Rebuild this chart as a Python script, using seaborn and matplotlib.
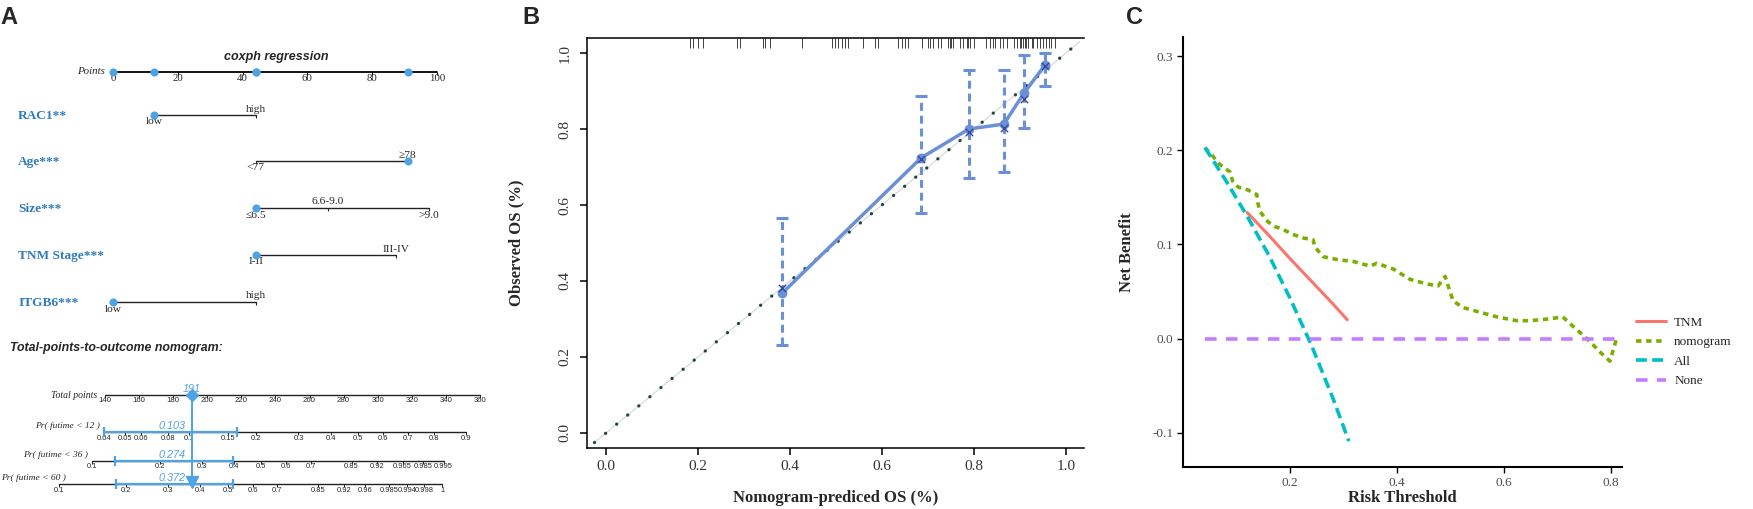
import numpy as np
import pandas as pd
import matplotlib
matplotlib.use("Agg")
import matplotlib.pyplot as plt
import seaborn as sns
from matplotlib.lines import Line2D

# ---------------- A: nomogram (coxph regression) ----------------
points_ticks = [0, 20, 40, 60, 80, 100]
var_names = ["RAC1**", "Age***", "Size***", "TNM Stage***", "ITGB6***"]
var_levels = [["low", "high"], ["<77", "≥78"], ["≤6.5", "6.6-9.0", ">9.0"],
              ["I-II", "III-IV"], ["low", "high"]]
var_points = [[12.6, 44.1], [44.1, 91.0], [44.1, 66.4, 97.5], [44.1, 87.3], [0.0, 44.1]]
obs_points = [12.6, 91.0, 44.1, 44.1, 0.0]   # the patient shown in blue

total_ticks = list(range(140, 361, 20))
total_obs = 191
pr_names = ["Pr( futime < 12 )", "Pr( futime < 36 )", "Pr( futime < 60 )"]
pr_ticks = [
    [0.04, 0.05, 0.06, 0.08, 0.1, 0.15, 0.2, 0.3, 0.4, 0.5, 0.6, 0.7, 0.8, 0.9],
    [0.1, 0.2, 0.3, 0.4, 0.5, 0.6, 0.7, 0.85, 0.92, 0.965, 0.985, 0.995],
    [0.1, 0.2, 0.3, 0.4, 0.5, 0.6, 0.7, 0.85, 0.92, 0.96, 0.985, 0.994, 0.998, 0.9995],
]
pr_obs = [0.103, 0.274, 0.372]
pr_low = [0.04, 0.127, 0.181]
pr_high = [0.164, 0.396, 0.520]
cll_slope = 0.019   # change of log(-log(1-p)) per total point

# ---------------- B: calibration ----------------
cal_pred = [0.383, 0.685, 0.789, 0.865, 0.909, 0.954]
cal_obs = [0.368, 0.724, 0.800, 0.813, 0.895, 0.968]
cal_lo = [0.232, 0.579, 0.671, 0.687, 0.803, 0.913]
cal_hi = [0.566, 0.887, 0.955, 0.955, 0.995, 1.000]
cal_corr = [0.382, 0.720, 0.792, 0.803, 0.879, 0.965]
rug_pred = [0.183, 0.189, 0.200, 0.211, 0.285, 0.291, 0.341, 0.346, 0.357, 0.426,
            0.491, 0.498, 0.505, 0.513, 0.520, 0.527, 0.559, 0.585, 0.592, 0.635,
            0.643, 0.650, 0.657, 0.686, 0.700, 0.704, 0.711, 0.722, 0.729, 0.743,
            0.747, 0.750, 0.755, 0.769, 0.776, 0.784, 0.787, 0.791, 0.799, 0.827,
            0.834, 0.842, 0.845, 0.856, 0.864, 0.871, 0.886, 0.893, 0.900, 0.903,
            0.907, 0.911, 0.914, 0.918, 0.925, 0.929, 0.936, 0.943, 0.950, 0.957,
            0.962, 0.968, 0.975]

# ---------------- C: decision curve ----------------
t_tnm = [0.12, 0.16, 0.20, 0.24, 0.28, 0.307]
nb_tnm = [0.134, 0.110, 0.085, 0.061, 0.037, 0.020]
t_nomo = [0.041, 0.054, 0.069, 0.088, 0.093, 0.103, 0.121, 0.138, 0.140, 0.144,
          0.159, 0.172, 0.187, 0.204, 0.224, 0.243, 0.247, 0.262, 0.288, 0.318,
          0.350, 0.362, 0.393, 0.424, 0.456, 0.477, 0.490, 0.499, 0.505, 0.523,
          0.555, 0.587, 0.624, 0.649, 0.686, 0.710, 0.729, 0.755, 0.779, 0.798, 0.812]
nb_nomo = [0.203, 0.195, 0.185, 0.177, 0.167, 0.161, 0.158, 0.153, 0.144, 0.135,
           0.124, 0.119, 0.116, 0.111, 0.107, 0.105, 0.097, 0.087, 0.084, 0.082,
           0.077, 0.080, 0.074, 0.063, 0.058, 0.056, 0.066, 0.050, 0.040, 0.033,
           0.028, 0.023, 0.019, 0.019, 0.021, 0.023, 0.013, 0.000, -0.014, -0.024, 0.003]
t_all = [0.041, 0.08, 0.12, 0.16, 0.20, 0.24, 0.28, 0.31]
nb_all = [0.203, 0.168, 0.130, 0.089, 0.043, -0.007, -0.063, -0.109]
t_none = [0.041, 0.812]
nb_none = [0.0, 0.0]
dca_names = ["TNM", "nomogram", "All", "None"]
dca_colors = ["#F8766D", "#7CAE00", "#00BFC4", "#C77CFF"]

sns.set_theme(style="white")
plt.rcParams['font.family'] = ['Liberation Serif', 'DejaVu Serif']
SANS = ['Liberation Sans', 'DejaVu Sans']

W, H = 1753, 509
fig = plt.figure(figsize=(W / 100, H / 100), dpi=100)


def fbox(x0, y0, x1, y1):
    # pixel box -> figure fraction
    return [x0 / W, 1 - y1 / H, (x1 - x0) / W, (y1 - y0) / H]


BLUE = '#4da3e3'
LBLUE = '#2f7bbd'

# ---- A, top part (x in points) ----
axA = fig.add_axes(fbox(0, 30, 490, 320))
axA.set_xlim(-34.9, 116.4)
axA.set_ylim(320, 30)
axA.axis('off')
row_y = [72, 115, 161, 208, 255, 302]
y0 = row_y[0]
axA.plot([points_ticks[0], points_ticks[-1]], [y0, y0], color='black', lw=1.3)
axA.vlines(points_ticks, y0, y0 + 3, color='black', lw=0.8)
for t in points_ticks:
    axA.text(t, y0 + 2, str(t), ha='center', va='top', fontsize=7.8)
axA.text(-2.5, y0, 'Points', ha='right', va='center', fontsize=7.8, style='italic')
axA.scatter(obs_points, [y0] * len(obs_points), s=34, color=BLUE, zorder=3, linewidths=0)

for i, name in enumerate(var_names):
    y = row_y[i + 1]
    pts = var_points[i]
    axA.plot([min(pts), max(pts)], [y, y], color='#222222', lw=1.0)
    axA.vlines(pts, y, y + 3, color='#222222', lw=0.8)
    for j, (lab, p) in enumerate(zip(var_levels[i], pts)):
        if j % 2 == 0:
            axA.text(p, y + 2.5, lab, ha='center', va='top', fontsize=8.2)
        else:
            axA.text(p, y - 1.5, lab, ha='center', va='bottom', fontsize=8.2)
    axA.scatter([obs_points[i]], [y], s=34, color=BLUE, zorder=3, linewidths=0)
    axA.text(0.037, y + 1, name, transform=axA.get_yaxis_transform(), ha='left',
             va='center', fontsize=9.6, fontweight='bold', color=LBLUE)

# ---- A, bottom part (x in total points) ----
axN = fig.add_axes(fbox(0, 320, 490, 509))
axN.set_xlim(78.4, 365.9)
axN.set_ylim(509, 320)
axN.axis('off')
rows_b = [395, 432, 461, 484]
x_left_min = 78.4 + 66 * 0.5867   # keep row titles inside the figure


def cll(p):
    return np.log(-np.log(1 - np.asarray(p, dtype=float)))


def p_to_total(p, p_obs):
    return total_obs + (cll(p) - cll(p_obs)) / cll_slope


yt = rows_b[0]
axN.plot([total_ticks[0], total_ticks[-1]], [yt, yt], color='#222222', lw=1.0)
axN.vlines(total_ticks, yt, yt + 3, color='#222222', lw=0.7)
for t in total_ticks:
    axN.text(t, yt + 2.5, str(t), ha='center', va='top', fontsize=5.6, family=SANS)
axN.text(total_ticks[0] - 4.5, yt + 1, 'Total points', ha='right', va='center',
         fontsize=7, style='italic')

for k in range(3):
    y = rows_b[k + 1]
    xs = p_to_total(pr_ticks[k], pr_obs[k])
    axN.plot([xs[0], xs[-1]], [y, y], color='#222222', lw=1.0)
    axN.vlines(xs, y, y + 3, color='#222222', lw=0.7)
    for p, x in zip(pr_ticks[k], xs):
        lab = "1" if p > 0.999 else f"{p:g}"
        axN.text(x, y + 2.5, lab, ha='center', va='top', fontsize=5.4, family=SANS)
    axN.text(max(xs[0] - 2.5, x_left_min), y - 6, pr_names[k], ha='right', va='center',
             fontsize=6.8, style='italic')
    lo, hi = p_to_total([pr_low[k], pr_high[k]], pr_obs[k])
    axN.plot([lo, hi], [y, y], color=BLUE, lw=1.6, zorder=4)
    axN.plot([lo, hi], [y, y], ls='none', marker='|', ms=7, mew=1.6, color=BLUE, zorder=4)
    axN.text(total_obs - 3.5, y - 1, f"{pr_obs[k]:.3f}", ha='right', va='bottom',
             fontsize=7.8, style='italic', family=SANS, color=BLUE)

axN.plot([total_obs, total_obs], [rows_b[0], rows_b[-1]], color=BLUE, lw=1.4, zorder=4)
axN.plot([total_obs], [rows_b[0]], marker='D', ms=6, color=BLUE, zorder=5)
axN.plot([total_obs], [rows_b[-1] - 2], marker='v', ms=8, color=BLUE, zorder=5)
axN.text(total_obs, rows_b[0] - 6, str(total_obs), ha='center', va='center',
         fontsize=7.8, style='italic', family=SANS, color=BLUE, zorder=6)

fig.text(276 / W, 1 - 57 / H, 'coxph regression', ha='center', va='center',
         fontsize=9, fontweight='bold', style='italic', family=SANS)
fig.text(10 / W, 1 - 348 / H, 'Total-points-to-outcome nomogram:', ha='left', va='center',
         fontsize=8.9, fontweight='bold', style='italic', family=SANS)

# ---- B ----
axB = fig.add_axes(fbox(587, 38, 1084, 448))
axB.set_xlim(-0.0413, 1.0391)
axB.set_ylim(-0.0395, 1.0395)
axB.plot([-0.025, 1.03], [-0.025, 1.03], color='#d6d6d6', lw=0.8, zorder=1)
axB.plot([-0.025, 1.03], [-0.025, 1.03], color='#1f4640', lw=2.4,
         ls=(0, (0.01, 4.3)), dash_capstyle='round', zorder=2)
CAL = '#6b90d8'
sns.lineplot(x=cal_pred, y=cal_obs, ax=axB, color=CAL, lw=2.5, estimator=None,
             sort=False, zorder=3)
eb = axB.errorbar(cal_pred, cal_obs,
                  yerr=[np.subtract(cal_obs, cal_lo), np.subtract(cal_hi, cal_obs)],
                  fmt='none', ecolor=CAL, elinewidth=2.2, capsize=4, capthick=2.2, zorder=3)
eb[2][0].set_linestyle((0, (2.6, 1.6)))
axB.scatter(cal_pred, cal_obs, s=50, color=CAL, zorder=4, linewidths=0)
axB.scatter(cal_pred, cal_corr, s=28, marker='x', color='#3949a3', linewidths=1.0, zorder=5)
axB.vlines(rug_pred, 0.975, 1.0, transform=axB.get_xaxis_transform(), color='#222222', lw=0.6)

axB.set_xticks([0, 0.2, 0.4, 0.6, 0.8, 1.0])
axB.set_yticks([0, 0.2, 0.4, 0.6, 0.8, 1.0])
axB.xaxis.set_major_formatter(matplotlib.ticker.FormatStrFormatter('%.1f'))
axB.yaxis.set_major_formatter(matplotlib.ticker.FormatStrFormatter('%.1f'))
axB.tick_params(direction='out', length=5, width=1.1, labelsize=11, labelcolor='#333333',
                color='black', left=True, bottom=True, pad=4)
axB.tick_params(axis='y', labelrotation=90, pad=6)
for lab in axB.get_yticklabels():
    lab.set_va('center')
for s in ['left', 'bottom', 'top']:
    axB.spines[s].set_color('black')
    axB.spines[s].set_linewidth(1.1)
axB.spines['right'].set_visible(False)
axB.set_xlabel('Nomogram-prediced OS (%)', fontsize=12, fontweight='bold')
axB.set_ylabel('Observed OS (%)', fontsize=12, fontweight='bold')
axB.xaxis.set_label_coords(0.5, -0.102)
axB.yaxis.set_label_coords(-0.125, 0.5)

# ---- C ----
axC = fig.add_axes(fbox(1183, 37, 1622, 467))
dca = pd.concat([
    pd.DataFrame({'t': t_tnm, 'nb': nb_tnm, 'model': 'TNM'}),
    pd.DataFrame({'t': t_nomo, 'nb': nb_nomo, 'model': 'nomogram'}),
    pd.DataFrame({'t': t_all, 'nb': nb_all, 'model': 'All'}),
    pd.DataFrame({'t': t_none, 'nb': nb_none, 'model': 'None'}),
])
dca_ls = {'TNM': '-', 'nomogram': (0, (1.5, 1.3)), 'All': (0, (3.0, 1.5)), 'None': (0, (3.2, 2.6))}
dca_lw = {'TNM': 2.2, 'nomogram': 2.6, 'All': 2.6, 'None': 2.6}
for name, col in zip(dca_names, dca_colors):
    sub = dca[dca['model'] == name]
    sns.lineplot(data=sub, x='t', y='nb', ax=axC, color=col, lw=dca_lw[name],
                 linestyle=dca_ls[name], estimator=None, sort=False)
axC.set_xlim(0.0, 0.8206)
axC.set_ylim(-0.1365, 0.3205)
axC.set_xticks([0.2, 0.4, 0.6, 0.8])
axC.set_yticks([-0.1, 0.0, 0.1, 0.2, 0.3])
axC.xaxis.set_major_formatter(matplotlib.ticker.FormatStrFormatter('%.1f'))
axC.yaxis.set_major_formatter(matplotlib.ticker.FormatStrFormatter('%.1f'))
axC.tick_params(direction='out', length=4, width=1.0, labelsize=9.5, labelcolor='#4d4d4d',
                color='black', left=True, bottom=True, pad=3)
for s in ['top', 'right']:
    axC.spines[s].set_visible(False)
for s in ['left', 'bottom']:
    axC.spines[s].set_color('black')
    axC.spines[s].set_linewidth(1.5)
axC.set_xlabel('Risk Threshold', fontsize=12, fontweight='bold')
axC.set_ylabel('Net Benefit', fontsize=12, fontweight='bold')
axC.xaxis.set_label_coords(0.5, -0.053)
axC.yaxis.set_label_coords(-0.11, 0.5)

handles = [Line2D([], [], color=c, lw=dca_lw[n], ls=dca_ls[n]) for n, c in zip(dca_names, dca_colors)]
fig.legend(handles, dca_names, loc='center left', bbox_to_anchor=(1628 / W, 1 - 352 / H),
           frameon=False, fontsize=9.5, handlelength=2.3, handletextpad=0.6,
           labelspacing=0.55, borderaxespad=0.2)

# panel letters
for letter, px in [('A', 0), ('B', 522), ('C', 1126)]:
    fig.text(px / W, 1 - 17 / H, letter, ha='left', va='center', fontsize=17,
             fontweight='bold', family=SANS)

fig.savefig('out.png', dpi=100)
